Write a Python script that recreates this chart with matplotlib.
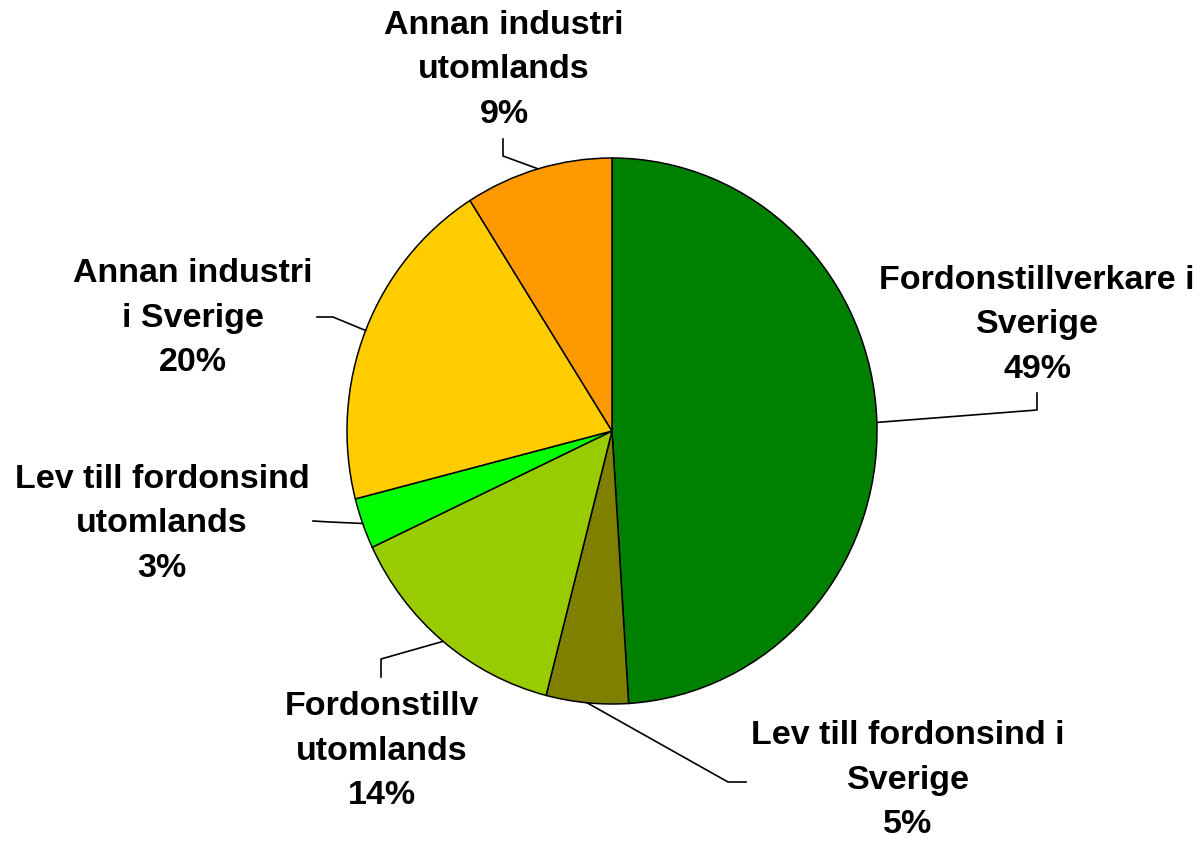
import numpy as np
import matplotlib.pyplot as plt

plt.rcParams['font.family'] = ['Liberation Sans', 'DejaVu Sans']

labels = ["Fordonstillverkare i\nSverige", "Lev till fordonsind i\nSverige",
          "Fordonstillv\nutomlands", "Lev till fordonsind\nutomlands",
          "Annan industri\ni Sverige", "Annan industri\nutomlands"]
shares = [49, 5, 14, 3, 20, 9]
colors = ["#008000", "#808000", "#99CC00", "#00FF00", "#FFCC00", "#FF9900"]

# label layout in pixels: text centre, elbow point of leader, end of leader
text_xy = [(1037, 325), (908, 780), (382, 751), (162, 524), (193, 318), (504, 70)]
elbow_xy = [(1037, 410), (728, 782), (381, 659), (330, 522), (333, 317), (503, 156)]
end_xy = [(1037, 393), (746, 782), (381, 677), (313, 521), (317, 317), (503, 139)]

W, H = 1204, 842
cx, cy, rx, ry = 612, 431, 265, 273


def px(x, y):
    return (x - cx) / rx, (cy - y) / ry


fig = plt.figure(figsize=(W / 100, H / 100), dpi=100)
ax = fig.add_axes([0, 0, 1, 1])
wedges, _ = ax.pie(shares, colors=colors, startangle=90, counterclock=False,
                   wedgeprops=dict(edgecolor="black", linewidth=1.1))
ax.set_aspect("auto")
ax.set_xlim(px(0, 0)[0], px(W, 0)[0])
ax.set_ylim(px(0, H)[1], px(0, 0)[1])
ax.axis("off")

for w, lab, s, t, e, f in zip(wedges, labels, shares, text_xy, elbow_xy, end_xy):
    mid = np.deg2rad((w.theta1 + w.theta2) / 2)
    p0 = (np.cos(mid), np.sin(mid))
    p1 = px(*e)
    p2 = px(*f)
    ax.plot([p0[0], p1[0], p2[0]], [p0[1], p1[1], p2[1]], color="black", lw=1.2)
    tx, ty = px(*t)
    ax.text(tx, ty, f"{lab}\n{s}%", ha="center", va="center", fontsize=24.5,
            fontweight="bold", linespacing=1.55, multialignment="center")

fig.savefig("out.png", dpi=100)
